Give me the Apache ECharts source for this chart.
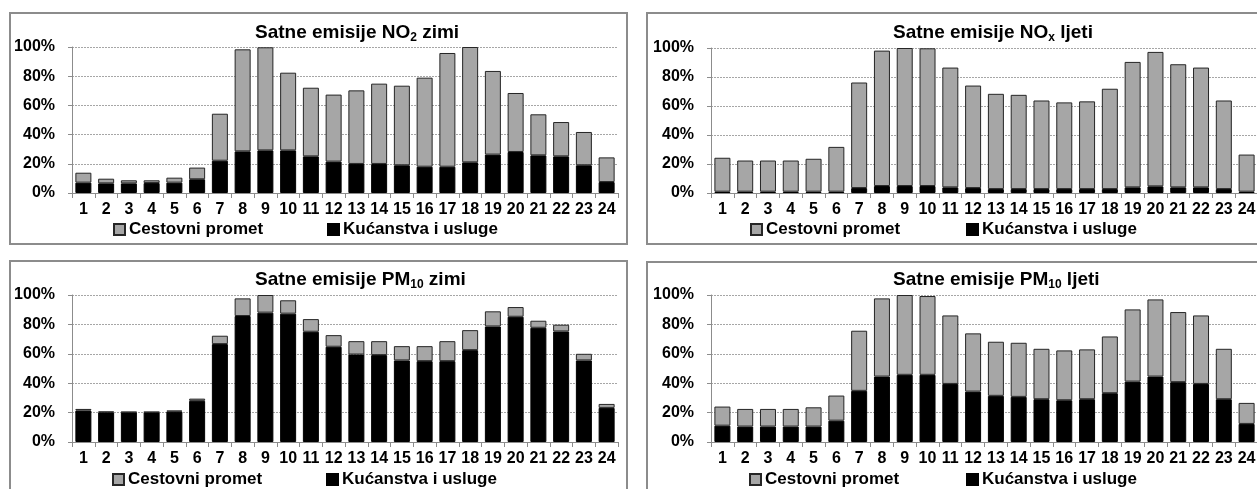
<!DOCTYPE html>
<html>
<head>
<meta charset="utf-8">
<script src="https://cdn.jsdelivr.net/npm/echarts@6/dist/echarts.min.js"></script>
<style>
    body { margin: 0; background: #fff; overflow: hidden; width: 1257px; height: 489px; position: relative; }
    .panel { position: absolute; box-sizing: border-box; border: 2px solid #8c8c8c; background: #fff; }
</style>
</head>
<body>
<div id="no2Zimi" class="panel" style="left:9px;top:12px;width:619px;height:233px"></div>
<div id="noxLjeti" class="panel" style="left:646px;top:12px;width:640px;height:233px"></div>
<div id="pm10Zimi" class="panel" style="left:9px;top:260px;width:619px;height:240px"></div>
<div id="pm10Ljeti" class="panel" style="left:646px;top:261px;width:640px;height:240px"></div>
<script>
var sati = ['1', '2', '3', '4', '5', '6', '7', '8', '9', '10', '11', '12', '13', '14', '15', '16', '17', '18', '19', '20', '21', '22', '23', '24'];
var yTicks = [0, 20, 40, 60, 80, 100];

// NO2 zimi
var no2ZimiKucanstva = [7.1, 6.6, 6.6, 6.8, 7.1, 9.4, 22.1, 28.5, 29.2, 29.2, 25.1, 21.5, 19.9, 19.9, 19.0, 18.0, 18.0, 21.0, 26.3, 28.1, 25.8, 25.1, 19.0, 7.5];
var no2ZimiPromet = [6.8, 3.2, 2.1, 1.9, 3.4, 8.0, 32.2, 69.9, 70.6, 53.2, 47.0, 45.9, 50.4, 55.0, 54.5, 61.0, 77.9, 79.0, 57.3, 40.4, 28.1, 23.5, 22.8, 16.9];

// NOx ljeti
var noxLjetiKucanstva = [0.9, 0.9, 0.9, 0.9, 0.9, 0.9, 3.4, 4.8, 4.8, 4.8, 3.9, 3.4, 2.7, 2.7, 2.7, 2.7, 2.7, 2.7, 3.9, 4.6, 3.9, 3.9, 2.7, 0.9];
var noxLjetiPromet = [23.4, 21.5, 21.5, 21.5, 22.7, 30.9, 72.8, 93.4, 95.2, 95.0, 82.6, 70.7, 65.7, 65.0, 61.1, 59.8, 60.5, 69.2, 86.5, 92.7, 84.9, 82.6, 61.1, 25.6];

// PM10 zimi
var pm10ZimiKucanstva = [21.4, 20.2, 20.2, 20.2, 20.7, 28.0, 66.6, 85.7, 88.0, 87.3, 75.0, 64.8, 59.5, 59.1, 55.5, 55.0, 55.0, 62.5, 78.6, 85.2, 77.7, 75.2, 55.5, 23.2];
var pm10ZimiPromet = [1.1, 0.5, 0.3, 0.3, 0.7, 1.5, 5.7, 12.0, 12.0, 9.1, 8.6, 7.9, 9.1, 9.5, 9.7, 10.2, 13.6, 13.6, 10.3, 6.6, 4.8, 4.6, 4.5, 2.7];

// PM10 ljeti
var pm10LjetiKucanstva = [11.1, 10.5, 10.5, 10.5, 10.5, 14.5, 34.8, 44.5, 45.7, 45.7, 39.5, 34.3, 31.4, 30.7, 29.1, 28.4, 29.1, 33.2, 41.1, 44.5, 40.7, 39.5, 29.1, 12.3];
var pm10LjetiPromet = [13.0, 12.0, 12.0, 12.0, 13.1, 17.1, 40.9, 53.2, 54.3, 53.6, 46.6, 39.6, 36.8, 36.8, 34.3, 33.9, 33.9, 38.6, 49.1, 52.5, 47.7, 46.6, 34.3, 14.3];

var font = 'Arial, "Liberation Sans", sans-serif';

function makeChart(options) {
    var myChart = echarts.init(document.getElementById(options.id));
    var legendText = { fontFamily: font, fontSize: 17, fontWeight: 'bold', color: '#000', padding: [0, 0, 0, -1] };
    var option = {
        animation: false,
        title: {
            text: '{a|' + options.tvar + '}{b|' + options.sub + '}{a| ' + options.sezona + '}',
            left: options.titleLeft,
            top: options.titleTop,
            padding: 0,
            textStyle: {
                rich: {
                    a: { fontFamily: font, fontSize: 19, fontWeight: 'bold', color: '#000', lineHeight: 22 },
                    b: { fontFamily: font, fontSize: 12, fontWeight: 'bold', color: '#000', lineHeight: 22, verticalAlign: 'bottom' }
                }
            }
        },
        legend: [{
            data: ['Cestovni promet'],
            left: options.leg1,
            top: options.legTop,
            padding: 0,
            icon: 'rect',
            itemWidth: 11,
            itemHeight: 11,
            itemGap: 4,
            textStyle: legendText
        }, {
            data: ['Kućanstva i usluge'],
            left: options.leg2,
            top: options.legTop,
            padding: 0,
            icon: 'rect',
            itemWidth: 11,
            itemHeight: 11,
            textStyle: legendText
        }],
        grid: {
            left: options.gridLeft,
            top: options.gridTop,
            width: options.gridWidth,
            height: options.gridHeight
        },
        xAxis: {
            type: 'category',
            data: sati,
            axisLine: { lineStyle: { color: '#8c8c8c', width: 1 } },
            axisTick: { show: true, length: 5, lineStyle: { color: '#8c8c8c' } },
            axisLabel: { fontFamily: font, fontSize: 16, fontWeight: 'bold', color: '#000', margin: 9, interval: 0 }
        },
        yAxis: {
            type: 'value',
            min: yTicks[0],
            max: yTicks[yTicks.length - 1],
            interval: 20,
            axisLine: { show: true, lineStyle: { color: '#8c8c8c', width: 1 } },
            axisTick: { show: true, length: 4, lineStyle: { color: '#8c8c8c' } },
            axisLabel: {
                fontFamily: font, fontSize: 16, fontWeight: 'bold', color: '#000', margin: 17,
                formatter: '{value}%'
            },
            splitLine: { lineStyle: { color: '#a6a6a6', type: [2, 1], width: 1 } }
        },
        series: [{
            name: 'Kućanstva i usluge',
            type: 'bar',
            stack: 'ukupno',
            barWidth: 16,
            data: options.kucanstva,
            itemStyle: { color: '#000', borderColor: '#000', borderWidth: 1 }
        }, {
            name: 'Cestovni promet',
            type: 'bar',
            stack: 'ukupno',
            barWidth: 16,
            data: options.promet,
            itemStyle: { color: '#a6a6a6', borderColor: '#262626', borderWidth: 1 }
        }]
    };
    myChart.setOption(option, true);
    return myChart;
}

makeChart({
    id: 'no2Zimi', tvar: 'Satne emisije NO', sub: '2', sezona: 'zimi',
    kucanstva: no2ZimiKucanstva, promet: no2ZimiPromet,
    titleLeft: 244, titleTop: 8, legTop: 207, leg1: 102, leg2: 316,
    gridLeft: 61, gridTop: 33, gridWidth: 546, gridHeight: 146
});
makeChart({
    id: 'noxLjeti', tvar: 'Satne emisije NO', sub: 'x', sezona: 'ljeti',
    kucanstva: noxLjetiKucanstva, promet: noxLjetiPromet,
    titleLeft: 245, titleTop: 8, legTop: 207, leg1: 102, leg2: 318,
    gridLeft: 63, gridTop: 34, gridWidth: 547, gridHeight: 145
});
makeChart({
    id: 'pm10Zimi', tvar: 'Satne emisije PM', sub: '10', sezona: 'zimi',
    kucanstva: pm10ZimiKucanstva, promet: pm10ZimiPromet,
    titleLeft: 244, titleTop: 7, legTop: 209, leg1: 101, leg2: 315,
    gridLeft: 61, gridTop: 33, gridWidth: 546, gridHeight: 147
});
makeChart({
    id: 'pm10Ljeti', tvar: 'Satne emisije PM', sub: '10', sezona: 'ljeti',
    kucanstva: pm10LjetiKucanstva, promet: pm10LjetiPromet,
    titleLeft: 245, titleTop: 6, legTop: 208, leg1: 101, leg2: 318,
    gridLeft: 63, gridTop: 32, gridWidth: 547, gridHeight: 147
});
</script>
</body>
</html>
